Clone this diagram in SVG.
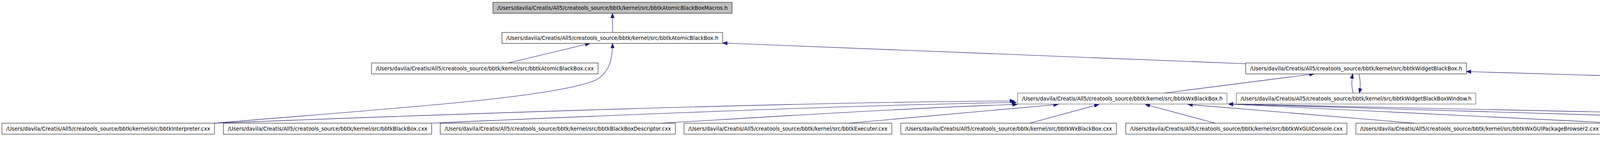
<svg xmlns="http://www.w3.org/2000/svg" width="6856" height="427" viewBox="0 0 6856 427">
<style>
.n rect{fill:#ffffff;stroke:#000000;stroke-width:1}
.n.g rect{stroke:#404040}
.n.root rect{fill:#bfbfbf}
.n text{font-family:"DejaVu Sans","Liberation Sans",sans-serif;font-size:13.3px;fill:#000000;text-anchor:middle}
.e path{fill:none;stroke:#191970;stroke-width:1.1;marker-end:url(#arr)}
</style>
<defs>
<marker id="arr" markerWidth="13" markerHeight="10" refX="12" refY="5" orient="auto" markerUnits="userSpaceOnUse">
<path d="M0,0.5 L12,5 L0,9.5 Z" fill="#191970" stroke="#191970" stroke-width="1"/>
</marker>
</defs>
<rect width="6856" height="427" fill="#ffffff"/>
<g id="edges" class="e">
<path d="M1568,83 L1568,34"/>
<path d="M1301,161 L1510,111"/>
<path d="M549,315 C1000,277 1400,252 1520,207 C1563,188 1568,145 1568,111"/>
<path d="M3189,163 L1850,110"/>
<path d="M2981,238 L3364,189"/>
<path d="M3464,238 C3460,224 3460,205 3463,189"/>
<path d="M3479,189 C3483,205 3483,222 3480,238"/>
<path d="M5816,244 L3754,183"/>
<path d="M549,315 C1200,290 2000,262 2597,258"/>
<path d="M1105,315 C1600,293 2200,268 2602,262"/>
<path d="M1692,315 C2000,297 2350,275 2604,267"/>
<path d="M2173,315 L2709,267"/>
<path d="M2636,315 L2813,267"/>
<path d="M3111,315 L2932,267"/>
<path d="M3621,315 L3041,267"/>
<path d="M4145,315 L3145,266"/>
<path d="M4791,315 C4400,300 3800,287 3145,266"/>
<path d="M5397,315 C4800,295 3800,285 3145,266"/>
<path d="M5934,393 C5930,340 5950,295 6012,268"/>
<path d="M5992,393 L6182,345"/>
<path d="M6216,315 L6121,268"/>
<path d="M6502,393 L6309,345"/>
<path d="M6562,393 C6566,340 6565,318 6540,308 C6480,285 6360,275 6270,267"/>
</g>
<g id="n0" class="n root"><rect x="1262" y="6" width="612" height="28"/><text x="1568" y="25" textLength="590" lengthAdjust="spacingAndGlyphs">/Users/davila/Creatis/All5/creatools_source/bbtk/kernel/src/bbtkAtomicBlackBoxMacros.h</text></g>
<g id="n1" class="n"><rect x="1285" y="83" width="565" height="28"/><text x="1567.5" y="102" textLength="543" lengthAdjust="spacingAndGlyphs">/Users/davila/Creatis/All5/creatools_source/bbtk/kernel/src/bbtkAtomicBlackBox.h</text></g>
<g id="n2" class="n"><rect x="951" y="161" width="580" height="28"/><text x="1241" y="180" textLength="558" lengthAdjust="spacingAndGlyphs">/Users/davila/Creatis/All5/creatools_source/bbtk/kernel/src/bbtkAtomicBlackBox.cxx</text></g>
<g id="n3" class="n"><rect x="3189" y="161" width="565" height="28"/><text x="3471.5" y="180" textLength="543" lengthAdjust="spacingAndGlyphs">/Users/davila/Creatis/All5/creatools_source/bbtk/kernel/src/bbtkWidgetBlackBox.h</text></g>
<g id="n4" class="n g"><rect x="2605" y="238" width="536" height="28"/><text x="2873" y="257" textLength="514" lengthAdjust="spacingAndGlyphs">/Users/davila/Creatis/All5/creatools_source/bbtk/kernel/src/bbtkWxBlackBox.h</text></g>
<g id="n5" class="n g"><rect x="3165" y="238" width="613" height="28"/><text x="3471.5" y="257" textLength="591" lengthAdjust="spacingAndGlyphs">/Users/davila/Creatis/All5/creatools_source/bbtk/kernel/src/bbtkWidgetBlackBoxWindow.h</text></g>
<g id="n6" class="n g"><rect x="5816" y="238" width="536" height="28"/><text x="6084" y="257" textLength="514" lengthAdjust="spacingAndGlyphs">/Users/davila/Creatis/All5/creatools_source/bbtk/kernel/src/bbtkQtBlackBox.h</text></g>
<g id="n7" class="n"><rect x="5" y="315" width="544" height="28"/><text x="277" y="334" textLength="522" lengthAdjust="spacingAndGlyphs">/Users/davila/Creatis/All5/creatools_source/bbtk/kernel/src/bbtkInterpreter.cxx</text></g>
<g id="n8" class="n"><rect x="572" y="315" width="533" height="28"/><text x="838.5" y="334" textLength="511" lengthAdjust="spacingAndGlyphs">/Users/davila/Creatis/All5/creatools_source/bbtk/kernel/src/bbtkBlackBox.cxx</text></g>
<g id="n9" class="n"><rect x="1127" y="315" width="602" height="28"/><text x="1428" y="334" textLength="580" lengthAdjust="spacingAndGlyphs">/Users/davila/Creatis/All5/creatools_source/bbtk/kernel/src/bbtkBlackBoxDescriptor.cxx</text></g>
<g id="n10" class="n"><rect x="1751" y="315" width="532" height="28"/><text x="2017" y="334" textLength="510" lengthAdjust="spacingAndGlyphs">/Users/davila/Creatis/All5/creatools_source/bbtk/kernel/src/bbtkExecuter.cxx</text></g>
<g id="n11" class="n"><rect x="2306" y="315" width="552" height="28"/><text x="2582" y="334" textLength="530" lengthAdjust="spacingAndGlyphs">/Users/davila/Creatis/All5/creatools_source/bbtk/kernel/src/bbtkWxBlackBox.cxx</text></g>
<g id="n12" class="n"><rect x="2882" y="315" width="566" height="28"/><text x="3165" y="334" textLength="544" lengthAdjust="spacingAndGlyphs">/Users/davila/Creatis/All5/creatools_source/bbtk/kernel/src/bbtkWxGUIConsole.cxx</text></g>
<g id="n13" class="n"><rect x="3471" y="315" width="633" height="28"/><text x="3787.5" y="334" textLength="611" lengthAdjust="spacingAndGlyphs">/Users/davila/Creatis/All5/creatools_source/bbtk/kernel/src/bbtkWxGUIPackageBrowser2.cxx</text></g>
<g id="n14" class="n"><rect x="4128" y="315" width="634" height="28"/><text x="4445" y="334" textLength="612" lengthAdjust="spacingAndGlyphs">/Users/davila/Creatis/All5/creatools_source/bbtk/kernel/src/bbtkWxGUIScriptingInterface.cxx</text></g>
<g id="n15" class="n"><rect x="4786" y="315" width="584" height="28"/><text x="5078" y="334" textLength="562" lengthAdjust="spacingAndGlyphs">/Users/davila/Creatis/All5/creatools_source/bbtk/kernel/src/bbtkWxGUITextEditor.cxx</text></g>
<g id="n16" class="n g"><rect x="5393" y="315" width="493" height="28"/><text x="5639.5" y="334" textLength="471" lengthAdjust="spacingAndGlyphs">/Users/davila/Creatis/All5/creatools_source/bbtk/kernel/appli/bbi/bbi.cxx</text></g>
<g id="n17" class="n"><rect x="5959" y="315" width="577" height="28"/><text x="6247.5" y="334" textLength="555" lengthAdjust="spacingAndGlyphs">/Users/davila/Creatis/All5/creatools_source/bbtk/kernel/src/bbtkQtBlackBoxDialog.h</text></g>
<g id="n18" class="n"><rect x="5661" y="393" width="550" height="28"/><text x="5936" y="412" textLength="528" lengthAdjust="spacingAndGlyphs">/Users/davila/Creatis/All5/creatools_source/bbtk/kernel/src/bbtkQtBlackBox.cxx</text></g>
<g id="n19" class="n"><rect x="6262" y="393" width="593" height="28"/><text x="6558.5" y="412" textLength="571" lengthAdjust="spacingAndGlyphs">/Users/davila/Creatis/All5/creatools_source/bbtk/kernel/src/bbtkQtBlackBoxDialog.cxx</text></g>
</svg>
